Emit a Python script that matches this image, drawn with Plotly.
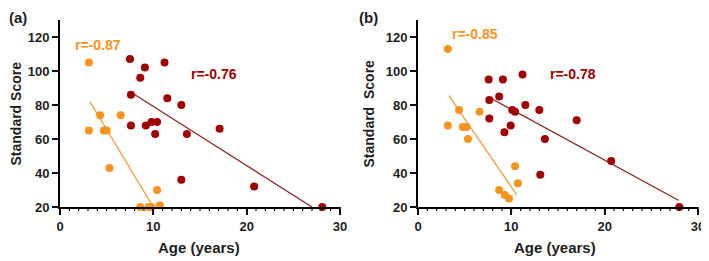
import plotly.graph_objects as go

# Panel (a)
a_orange_x = [3.1, 3.1, 4.3, 4.7, 5.0, 5.3, 6.5, 8.6, 9.5, 9.8, 10.4, 10.7]
a_orange_y = [105, 65, 74, 65, 65, 43, 74, 20, 20, 20, 30, 21]
a_red_x = [7.5, 8.6, 9.1, 11.2, 7.6, 11.5, 13.0, 7.6, 9.2, 9.8, 10.4, 10.2, 13.6, 17.1, 13.0, 20.8, 28.1]
a_red_y = [107, 96, 102, 105, 86, 84, 80, 68, 68, 70, 70, 63, 63, 66, 36, 32, 20]
a_orange_fit_x = [3.2, 10.0]
a_orange_fit_y = [82, 20]
a_red_fit_x = [7.9, 27.0]
a_red_fit_y = [86.5, 20]

# Panel (b)
b_orange_x = [3.2, 3.2, 4.4, 4.8, 5.2, 5.35, 6.6, 8.7, 9.3, 9.75, 10.4, 10.7]
b_orange_y = [113, 68, 77, 67, 67, 60, 76, 30, 27, 25, 44, 34]
b_red_x = [7.57, 9.1, 11.2, 7.64, 8.7, 10.1, 10.4, 11.5, 13.0, 7.64, 9.93, 9.26, 13.6, 17.0, 13.1, 20.7, 28.0]
b_red_y = [95, 95, 98, 83, 85, 77, 76, 80, 77, 72, 68, 64, 60, 71, 39, 47, 20]
b_orange_fit_x = [3.3, 10.6]
b_orange_fit_y = [85.5, 27]
b_red_fit_x = [8.0, 27.9]
b_red_fit_y = [83.4, 24]

r_labels_a = ["r=-0.87", "r=-0.76"]
r_labels_b = ["r=-0.85", "r=-0.78"]
x_major = [0, 10, 20, 30]
x_minor = [v for v in range(0, 31) if v % 10 != 0]
y_ticks = [20, 40, 60, 80, 100, 120]
X_RANGE = [0, 30]
Y_RANGE = [20, 130]

ORANGE = "#F7941D"
RED = "#A00000"
ORANGE_LINE = "#E9A23B"
RED_LINE = "#8B2525"
TXT = "#1e1e1e"
FONT = "Liberation Sans, Arial, sans-serif"

# page has an 8px body margin; figure sized to fit the 709x261 window
OFF = 8
W, H = 709 - OFF, 261 - OFF

def PX(x):
    return (x - OFF) / W

def PY(y):
    return 1 - (y - OFF) / H

fig = go.Figure(layout=dict(template="none"))

def add_panel(xa, ya, ox, oy, rx, ry, ofx, ofy, rfx, rfy):
    fig.add_trace(go.Scatter(x=ofx, y=ofy, mode="lines", line=dict(color=ORANGE_LINE, width=1.3),
                             xaxis=xa, yaxis=ya, showlegend=False, hoverinfo="skip"))
    fig.add_trace(go.Scatter(x=rfx, y=rfy, mode="lines", line=dict(color=RED_LINE, width=1.3),
                             xaxis=xa, yaxis=ya, showlegend=False, hoverinfo="skip"))
    fig.add_trace(go.Scatter(x=rx, y=ry, mode="markers", marker=dict(color=RED, size=8),
                             xaxis=xa, yaxis=ya, showlegend=False, cliponaxis=False))
    fig.add_trace(go.Scatter(x=ox, y=oy, mode="markers", marker=dict(color=ORANGE, size=8),
                             xaxis=xa, yaxis=ya, showlegend=False, cliponaxis=False))

add_panel("x", "y", a_orange_x, a_orange_y, a_red_x, a_red_y,
          a_orange_fit_x, a_orange_fit_y, a_red_fit_x, a_red_fit_y)
add_panel("x2", "y2", b_orange_x, b_orange_y, b_red_x, b_red_y,
          b_orange_fit_x, b_orange_fit_y, b_red_fit_x, b_red_fit_y)

ydom = [PY(207), PY(20)]
xdom_a = [PX(60), PX(340)]
xdom_b = [PX(418), PX(698)]
tickfont = dict(family=FONT, size=13, color=TXT, weight="bold")

def xaxis(dom, anchor):
    return dict(domain=dom, anchor=anchor, range=X_RANGE, tickmode="array", tickvals=x_major,
                ticks="outside", ticklen=6, tickwidth=1.6, tickcolor="#111111", showline=True,
                linecolor="black", linewidth=2, showgrid=False, zeroline=False,
                tickfont=tickfont)

def yaxis(anchor):
    return dict(domain=ydom, range=Y_RANGE, tickmode="array", tickvals=y_ticks, ticks="outside",
                ticklen=6, tickwidth=1.6, tickcolor="#111111", showline=True, linecolor="black",
                linewidth=2, showgrid=False, zeroline=False, anchor=anchor, tickfont=tickfont)

fig.update_layout(
    width=W, height=H, margin=dict(l=0, r=0, t=0, b=0),
    paper_bgcolor="white", plot_bgcolor="white",
    xaxis=xaxis(xdom_a, "y"),
    yaxis=yaxis("x"),
    xaxis2=xaxis(xdom_b, "y2"),
    yaxis2=yaxis("x2"),
)

# tick marks (comb of minor ticks on x, majors on both axes) drawn explicitly
shapes = []
def tick_line(x0, y0, x1, y1, w):
    shapes.append(dict(type="line", xref="paper", yref="paper", x0=x0, y0=y0, x1=x1, y1=y1,
                       line=dict(color="#111111", width=w), layer="above"))

for dom in (xdom_a, xdom_b):
    yb = ydom[0]
    for v in x_major:
        xp = dom[0] + (v - X_RANGE[0]) / (X_RANGE[1] - X_RANGE[0]) * (dom[1] - dom[0])
        tick_line(xp, yb, xp, yb - 6 / H, 1.6)
    for v in x_minor:
        xp = dom[0] + (v - X_RANGE[0]) / (X_RANGE[1] - X_RANGE[0]) * (dom[1] - dom[0])
        tick_line(xp, yb, xp, yb - 4 / H, 1.2)
    for v in y_ticks:
        yp = ydom[0] + (v - Y_RANGE[0]) / (Y_RANGE[1] - Y_RANGE[0]) * (ydom[1] - ydom[0])
        tick_line(dom[0], yp, dom[0] - 6 / W, yp, 1.6)

ann = []
def txt(x, y, s, size, color=TXT, xref="paper", yref="paper", xanchor="center", yanchor="middle", angle=0):
    ann.append(dict(x=x, y=y, text="<b>%s</b>" % s, showarrow=False, xref=xref, yref=yref,
                    xanchor=xanchor, yanchor=yanchor, textangle=angle, borderpad=0,
                    font=dict(family=FONT, size=size, color=color)))

# r labels (data coordinates)
txt(1.5, 115, r_labels_a[0], 14, ORANGE, "x", "y", "left")
txt(13.9, 98, r_labels_a[1], 14, RED, "x", "y", "left")
txt(3.5, 121.5, r_labels_b[0], 14, ORANGE, "x2", "y2", "left")
txt(14.0, 98, r_labels_b[1], 14, RED, "x2", "y2", "left")

# panel labels (kept inside the figure area)
txt(0, 1, "(a)", 15, xanchor="left", yanchor="top")
txt(PX(358), 1, "(b)", 15, xanchor="left", yanchor="top")

# axis titles
txt(PX(15), PY(113.5), "Standard Score", 14, angle=-90)
txt(PX(368), PY(113.5), "Standard&nbsp;&nbsp;Score", 14, angle=-90)
txt(PX(199), PY(247), "Age (years)", 15)
txt(PX(555), PY(247), "Age (years)", 15)

fig.update_layout(annotations=ann, shapes=shapes)
fig.write_html("out.html")
